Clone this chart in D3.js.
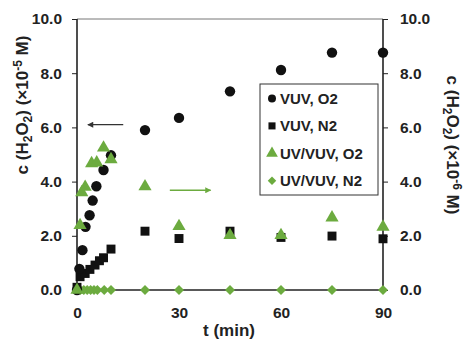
<!DOCTYPE html>
<meta charset="utf-8">
<script src="https://d3js.org/d3.v7.min.js"></script>
<style>
  body { margin: 0; background: #fff; }
  text { font-family: "Liberation Sans", Arial, sans-serif; font-weight: bold; fill: #222; }
</style>
<div id="chart"></div>
<script>
  // ---- data ----
  var vuvO2_t = [0, 0.7, 1.6, 2.5, 3.7, 4.6, 5.7, 7.8, 10, 20, 30, 45, 60, 75, 90];
  var vuvO2_v = [0, 0.78, 1.47, 2.33, 2.76, 3.3, 3.83, 4.43, 4.97, 5.9, 6.35, 7.33, 8.12, 8.76, 8.76];

  var vuvN2_t = [0, 0.9, 2.4, 3.8, 5.3, 6.6, 7.8, 10, 20, 30, 45, 60, 75, 90];
  var vuvN2_v = [0.1, 0.49, 0.61, 0.76, 0.92, 1.08, 1.19, 1.51, 2.17, 1.9, 2.17, 1.94, 1.99, 1.89];

  // right axis (x10^-6 M)
  var uvO2_t = [0, 0.9, 1.4, 2.4, 4.3, 5.8, 7.8, 10, 20, 30, 45, 60, 75, 90];
  var uvO2_v = [0, 2.39, 3.6, 3.8, 4.67, 4.7, 5.25, 4.82, 3.82, 2.35, 2.02, 2.02, 2.67, 2.33];

  var uvN2_t = [0, 1, 2, 3, 4, 5, 6, 8, 10, 20, 30, 45, 60, 75, 90];
  var uvN2_v = [0, 0, 0, 0, 0, 0, 0, 0, 0, 0, 0, 0, 0, 0, 0];

  var xTicks = [0, 30, 60, 90];
  var yTicks = [0, 2, 4, 6, 8, 10];
  var legendLabels = ["VUV, O2", "VUV, N2", "UV/VUV, O2", "UV/VUV, N2"];

  var green = "#6cab3f", black = "#111";

  var W = 464, H = 344;
  var mLeft = 77, mRight = 383, mTop = 19, mBottom = 290;

  var svg = d3.select("#chart").append("svg").attr("width", W).attr("height", H);

  var x = d3.scaleLinear().domain([0, 90]).range([mLeft, mRight]);
  var y = d3.scaleLinear().domain([0, 10]).range([mBottom, mTop]);
  var yR = d3.scaleLinear().domain([0, 10]).range([mBottom, mTop]);

  // top border (thin, grey)
  svg.append("line").attr("x1", mLeft).attr("x2", mRight).attr("y1", mTop).attr("y2", mTop)
    .attr("stroke", "#777").attr("stroke-width", 1);

  var fmt = d3.format(".1f");

  var gl = svg.append("g").attr("transform", "translate(" + mLeft + ",0)")
    .call(d3.axisLeft(y).tickValues(yTicks).tickFormat(fmt).tickSize(5).tickPadding(10));
  var gr = svg.append("g").attr("transform", "translate(" + mRight + ",0)")
    .call(d3.axisRight(yR).tickValues(yTicks).tickFormat(fmt).tickSize(5).tickPadding(12));
  var gb = svg.append("g").attr("transform", "translate(0," + mBottom + ")")
    .call(d3.axisBottom(x).tickValues(xTicks).tickSize(0).tickPadding(17));

  [gl, gr, gb].forEach(function(g) {
    g.select(".domain").attr("stroke", "#222").attr("stroke-width", 1.6);
    g.selectAll(".tick line").attr("stroke", "#222").attr("stroke-width", 1);
    g.selectAll("text").style("font-size", "15.5px").style("font-weight", "bold")
      .style("font-family", "'Liberation Sans', Arial, sans-serif").attr("fill", "#222");
  });
  gl.select(".domain").attr("d", "M0," + mBottom + "V" + mTop);
  gr.select(".domain").attr("d", "M0," + mBottom + "V" + mTop);
  gb.select(".domain").attr("d", "M" + mLeft + ",0H" + mRight);

  // axis titles
  function title(sel, exp) {
    sel.append("tspan").text("c (H");
    sel.append("tspan").attr("dy", 4).style("font-size", "12px").text("2");
    sel.append("tspan").attr("dy", -4).text("O");
    sel.append("tspan").attr("dy", 4).style("font-size", "12px").text("2");
    sel.append("tspan").attr("dy", -4).text(") (\u00d710");
    sel.append("tspan").attr("dy", -6).style("font-size", "12px").text(exp);
    sel.append("tspan").attr("dy", 6).text(" M)");
  }
  title(svg.append("text").attr("transform", "translate(28,105) rotate(-90)")
    .attr("text-anchor", "middle").style("font-size", "17px"), "-5");
  title(svg.append("text").attr("transform", "translate(447,145) rotate(90)")
    .attr("text-anchor", "middle").style("font-size", "17px"), "-6");

  svg.append("text").attr("x", 229).attr("y", 336)
    .attr("text-anchor", "middle").style("font-size", "17px").text("t (min)");

  // markers
  function plot(ts, vs, yScale, type, size, color, rot) {
    var data = ts.map(function(t, i) { return { t: t, v: vs[i] }; });
    svg.append("g").selectAll("path").data(data).enter().append("path")
      .attr("d", d3.symbol().type(type).size(size))
      .attr("transform", function(d) {
        return "translate(" + x(d.t) + "," + yScale(d.v) + ")" + (rot ? " rotate(45)" : "");
      })
      .attr("fill", color);
  }
  plot(uvN2_t, uvN2_v, yR, d3.symbolSquare, 50, green, true);
  plot(vuvN2_t, vuvN2_v, y, d3.symbolSquare, 80, black);
  plot(vuvO2_t, vuvO2_v, y, d3.symbolCircle, 85, black);
  plot(uvO2_t, uvO2_v, yR, d3.symbolTriangle, 75, green);

  // arrows
  var defs = svg.append("defs");
  function head(id, color) {
    defs.append("marker").attr("id", id).attr("viewBox", "0 0 10 10")
      .attr("refX", 9).attr("refY", 5).attr("markerWidth", 8).attr("markerHeight", 6)
      .attr("markerUnits", "userSpaceOnUse").attr("orient", "auto")
      .append("path").attr("d", "M0,0L10,5L0,10z").attr("fill", color);
  }
  head("hb", "#333"); head("hg", green);
  svg.append("line").attr("x1", x(13.6)).attr("x2", x(3.2)).attr("y1", y(6.1)).attr("y2", y(6.1))
    .attr("stroke", "#333").attr("stroke-width", 1.3).attr("marker-end", "url(#hb)");
  svg.append("line").attr("x1", x(27.3)).attr("x2", x(39.3)).attr("y1", y(3.68)).attr("y2", y(3.68))
    .attr("stroke", green).attr("stroke-width", 1.3).attr("marker-end", "url(#hg)");

  // legend
  var lg = svg.append("g").attr("transform", "translate(260,84)");
  lg.append("rect").attr("width", 118).attr("height", 111)
    .attr("fill", "#fff").attr("stroke", "#333").attr("stroke-width", 1);
  var types = [d3.symbolCircle, d3.symbolSquare, d3.symbolTriangle, d3.symbolSquare];
  var colors = [black, black, green, green];
  var sizes = [50, 50, 60, 36];
  var items = lg.selectAll(".item").data(legendLabels).enter().append("g")
    .attr("transform", function(d, i) { return "translate(0," + (14.5 + i * 27.4) + ")"; });
  items.append("path")
    .attr("transform", function(d, i) { return "translate(12,0)" + (i === 3 ? " rotate(45)" : ""); })
    .attr("d", function(d, i) { return d3.symbol().type(types[i]).size(sizes[i])(); })
    .attr("fill", function(d, i) { return colors[i]; });
  items.append("text").attr("x", 20).attr("y", 5.5).style("font-size", "15px")
    .text(function(d) { return d; });
</script>
